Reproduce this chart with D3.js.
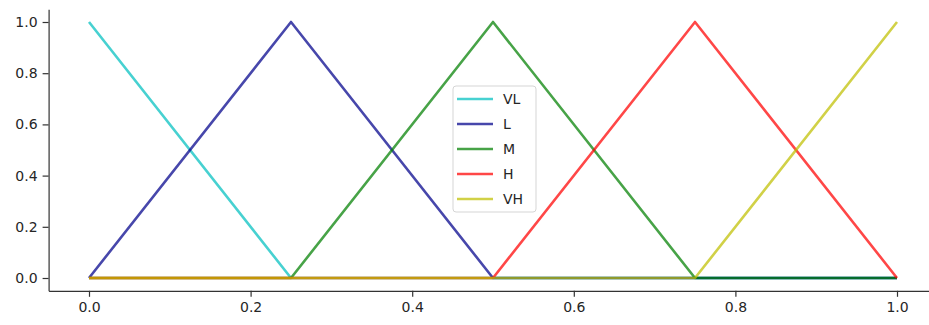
<!DOCTYPE html>
<html>
<head>
<meta charset="utf-8">
<script src="https://cdn.jsdelivr.net/npm/d3@7"></script>
<style>
  html, body { margin: 0; padding: 0; background: #fff; overflow: hidden; }
  svg { display: block; }
  text { font-family: "DejaVu Sans", sans-serif; }
</style>
</head>
<body>
<svg id="chart" width="929" height="325"></svg>
<script>
// Universe breakpoints of the triangular membership functions
const universe = [0, 0.25, 0.5, 0.75, 1.0];

// Membership degree of each fuzzy set at the breakpoints
const seriesNames = ["VL", "L", "M", "H", "VH"];
const vl = [1, 0, 0, 0, 0];
const lo = [0, 1, 0, 0, 0];
const md = [0, 0, 1, 0, 0];
const hi = [0, 0, 0, 1, 0];
const vh = [0, 0, 0, 0, 1];
const seriesColors = ["#00bfbf", "#00008b", "#008000", "#ff0000", "#bfbf00"];

const xTicks = [0.0, 0.2, 0.4, 0.6, 0.8, 1.0];
const yTicks = [0.0, 0.2, 0.4, 0.6, 0.8, 1.0];

const series = [vl, lo, md, hi, vh].map((vals, i) => ({
  name: seriesNames[i],
  color: seriesColors[i],
  points: universe.map((u, j) => [u, vals[j]])
}));

const svg = d3.select("#chart");

const x = d3.scaleLinear().domain([-0.05, 1.05]).range([48.6, 937.4]);
const y = d3.scaleLinear().domain([-0.05, 1.05]).range([290.8, 9.2]);

// Axes
const xAxis = svg.append("g")
  .attr("transform", `translate(0,${y(-0.05)})`)
  .call(d3.axisBottom(x).tickValues(xTicks).tickFormat(d3.format(".1f")).tickSizeInner(6).tickSizeOuter(0).tickPadding(5));
const yAxis = svg.append("g")
  .attr("transform", `translate(${x(-0.05)},0)`)
  .call(d3.axisLeft(y).tickValues(yTicks).tickFormat(d3.format(".1f")).tickSizeInner(6).tickSizeOuter(0).tickPadding(5));

[xAxis, yAxis].forEach(g => {
  g.selectAll(".domain").attr("stroke", "#333").attr("stroke-width", 1.2);
  g.selectAll(".tick line").attr("stroke", "#333").attr("stroke-width", 1.2);
  g.selectAll(".tick text").attr("fill", "#262626").style("font-size", "14px")
    .style("font-family", "'DejaVu Sans', sans-serif");
});

// Membership lines
const line = d3.line().x(d => x(d[0])).y(d => y(d[1]));
svg.append("g").selectAll("path")
  .data(series)
  .join("path")
  .attr("d", d => line(d.points))
  .attr("fill", "none")
  .attr("stroke", d => d.color)
  .attr("stroke-opacity", 0.72)
  .attr("stroke-width", 2.6)
  .attr("stroke-linejoin", "round");

// Legend
const lg = svg.append("g").attr("transform", "translate(453,86)");
lg.append("rect")
  .attr("width", 83).attr("height", 126)
  .attr("rx", 3).attr("ry", 3)
  .attr("fill", "#fff").attr("fill-opacity", 0.8)
  .attr("stroke", "#d5d5d5").attr("stroke-width", 1);
series.forEach((s, i) => {
  const yy = 13 + i * 25;
  lg.append("line")
    .attr("x1", 4).attr("x2", 40).attr("y1", yy).attr("y2", yy)
    .attr("stroke", s.color).attr("stroke-opacity", 0.72).attr("stroke-width", 2.6);
  lg.append("text")
    .attr("x", 50).attr("y", yy).attr("dy", "0.36em")
    .attr("fill", "#262626").style("font-size", "14px")
    .text(s.name);
});
</script>
</body>
</html>
